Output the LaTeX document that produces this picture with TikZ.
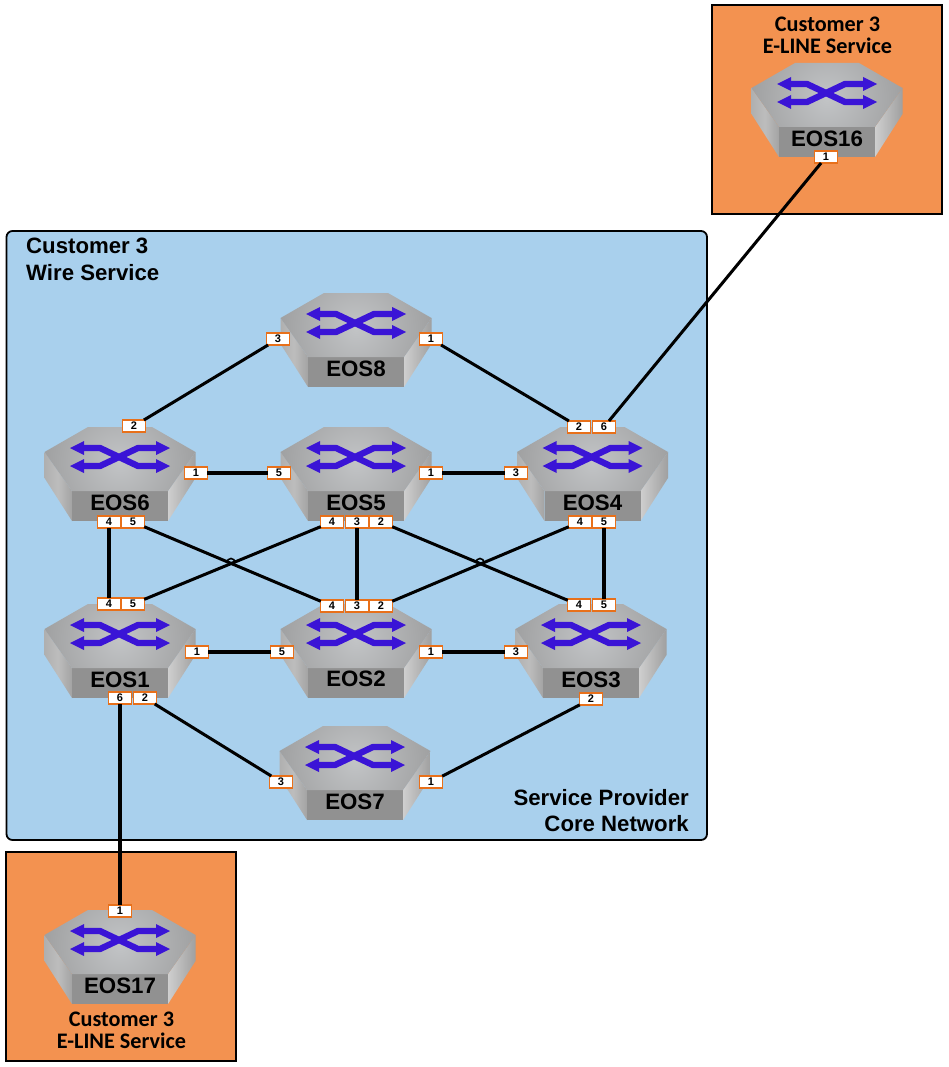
\documentclass[tikz,border=0pt]{standalone}
\usepackage{fontspec}
\setmainfont{Liberation Sans}
\newfontfamily\carlito{Carlito}
\usetikzlibrary{calc}
\definecolor{coreblue}{HTML}{A9D0ED}
\definecolor{custorange}{HTML}{F39250}
\definecolor{portline}{HTML}{E8701A}
\definecolor{arrowblue}{HTML}{3A14D6}
\definecolor{facemid}{HTML}{C2C4C6}
\definecolor{faceout}{HTML}{8A8A8A}
\tikzset{
  x=1pt,y=-1pt,
  zone/.style={draw=black,line width=1.8pt},
  portbox/.style={draw=portline,fill=white,line width=1.1pt,minimum width=22.5pt,minimum height=12pt,inner sep=0pt,outer sep=0pt,font=\fontsize{11}{11}\selectfont\bfseries},
  link/.style={draw=black,line width=3.02pt},
  devname/.style={inner sep=0pt,font=\fontsize{22.3}{22.3}\selectfont\bfseries},
  svc/.style={inner sep=0pt,align=center,font=\carlito\fontsize{22.2}{22}\selectfont\bfseries},
  zonetext/.style={inner sep=0pt,font=\fontsize{22.2}{26.5}\selectfont\bfseries},
}
\newcommand{\switchbody}[4]{%
 \begin{scope}[shift={(#2,#3)}]
  \shade[left color=gray!62,right color=gray!72,middle color=gray!52] (-75.5,25)--(-48,64)--(-48,94)--(-75.5,51)--cycle;
  \shade[left color=gray!38,right color=gray!75] (75.5,25)--(48,64)--(48,94)--(75.5,51)--cycle;
  \fill[black!43] (-48,64) rectangle (48,94);
  \begin{scope}
   \clip (-32,0)--(32,0)--(75.5,25)--(48,64)--(-48,64)--(-75.5,25)--cycle;
   \shade[inner color=facemid,outer color=faceout] (-125,-90) rectangle (125,160);
  \end{scope}
  \draw[arrowblue,line width=6.3pt,line join=round] (-38,21)--(-20,21)--(18,39)--(38,39);
  \draw[arrowblue,line width=6.3pt,line join=round] (-38,39)--(-20,39)--(18,21)--(38,21);
  \fill[arrowblue] (-50,21)--(-36,14)--(-36,28)--cycle (-50,39)--(-36,32)--(-36,46)--cycle
        (50,21)--(36,14)--(36,28)--cycle (50,39)--(36,32)--(36,46)--cycle;
  \node[devname] (#1) at (0,#4) {#1};
 \end{scope}}
\begin{document}
\begin{tikzpicture}
\useasboundingbox (0,0) rectangle (948,1067);
\fill[white] (0,0) rectangle (948,1067);
\draw[zone,fill=coreblue,rounded corners=6pt] (6.5,231) rectangle (707,840);
\draw[zone,fill=custorange] (712,5) rectangle (942,214);
\draw[zone,fill=custorange] (6,852) rectangle (236,1061);
\node[zonetext,align=left,anchor=north west] (wire) at (26,238) {Customer 3\\Wire Service};
\node[zonetext,align=right,anchor=south east] (core) at (689,832) {Service Provider\\Core Network};
\node[svc] (svctop) at (827.5,35) {Customer 3\\E-LINE Service};
\node[svc] (svcbot) at (121.5,1030) {Customer 3\\E-LINE Service};
\switchbody{EOS8}{356}{293}{76}
\switchbody{EOS6}{120}{427}{76}
\switchbody{EOS5}{356}{427}{76}
\switchbody{EOS4}{592.5}{427}{76}
\switchbody{EOS1}{120}{604}{76}
\switchbody{EOS2}{356}{604}{75}
\switchbody{EOS3}{591}{604}{76}
\switchbody{EOS7}{355}{726}{76}
\switchbody{EOS17}{120}{910}{76}
\switchbody{EOS16}{827}{63}{76}
% ports
\foreach \n/\t/\x/\y in {
 e8a/3/278/339, e8b/1/431/339,
 e6a/2/134/426, e6b/1/196/473, e6c/4/109/522, e6d/5/133/522,
 e5a/5/279/473, e5b/1/431/473, e5c/4/332/522, e5d/3/357/522, e5e/2/381/522,
 e4a/3/516/473, e4b/2/579/427, e4c/6/604/427, e4d/4/580/522, e4e/5/604/522,
 e1a/4/109/604, e1b/5/133/604, e1c/1/197/652, e1d/6/120/698, e1e/2/145/698,
 e2a/4/332/606, e2b/3/357/606, e2c/2/381/606, e2d/5/282/652, e2e/1/431/652,
 e3a/4/579/605, e3b/5/604/605, e3c/3/516/652, e3d/2/591/699,
 e7a/3/281/782, e7b/1/431/782,
 e16/1/826/157, e17/1/120/911}
 {\node[portbox] (\n) at (\x,\y) {\t};}
% connectors
\foreach \a/\b in {e8a/e6a,e8b/e4b,e6b/e5a,e5b/e4a,e6c/e1a,e6d/e2a,e5c/e1b,e5d/e2b,e5e/e3a,e4d/e2c,e4e/e3b,e1c/e2d,e2e/e3c,e1e/e7a,e7b/e3d,e1d/e17,e4c/e16}
 {\draw[link] (\a)--(\b);}
\coordinate (hopa) at (231,562.5);
\coordinate (hopb) at (480,562.5);
\foreach \h in {hopa,hopb}
 {\draw[black,line width=1.6pt] ($(\h)+(-4,0)$) arc[start angle=180,end angle=360,radius=4];}
\end{tikzpicture}
\end{document}
